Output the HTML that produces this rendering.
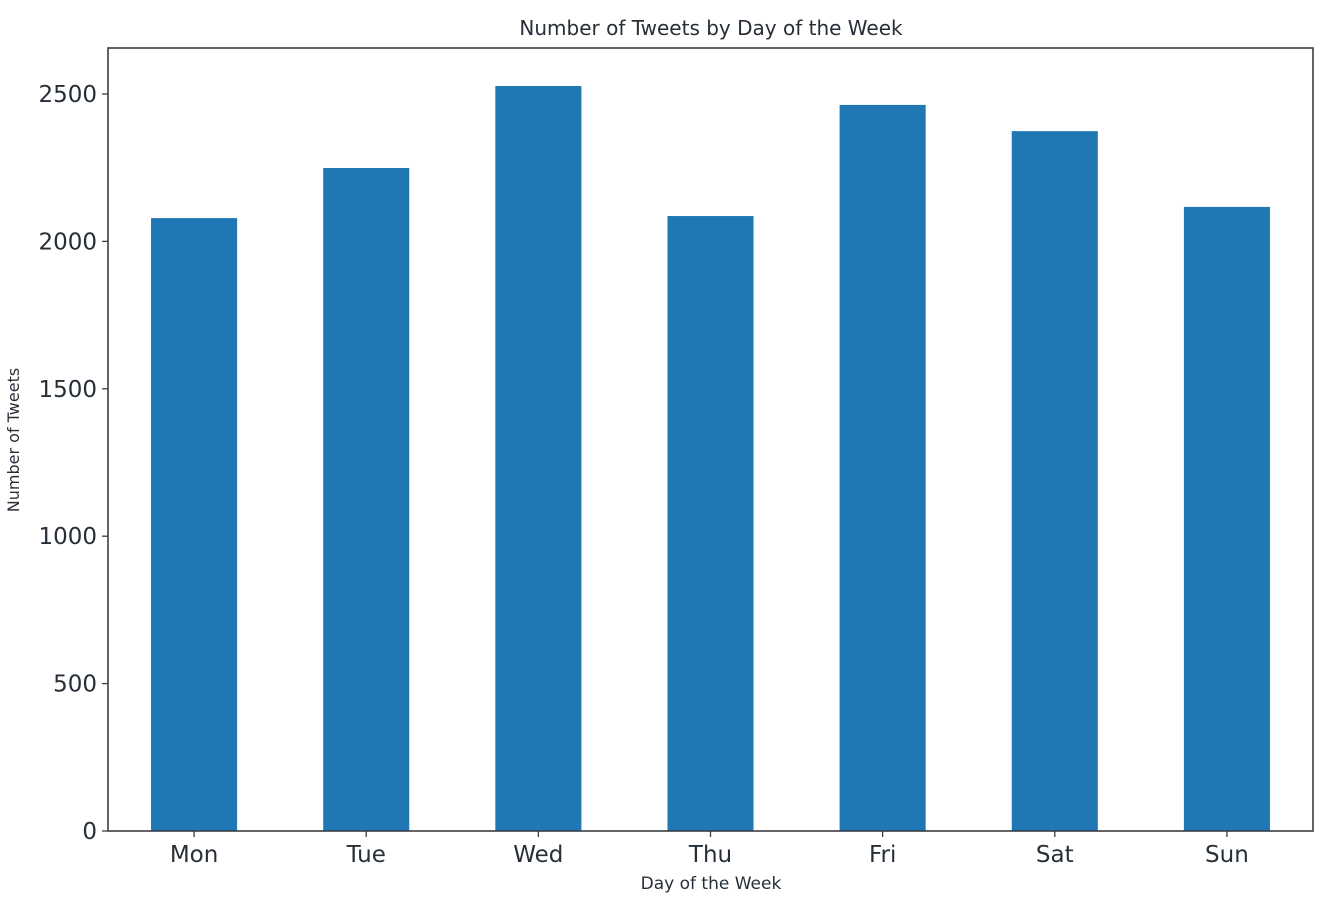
<!DOCTYPE html>
<html><head><meta charset="utf-8"><style>
body{margin:0;background:#fff;}
svg text{font-family:"DejaVu Sans","Liberation Sans",sans-serif;fill:#262f38;}
</style></head><body>
<svg id="chart" width="1336" height="908">
<text x="711" y="35" font-size="20" text-anchor="middle">Number of Tweets by Day of the Week</text>
<text x="711" y="889" font-size="17" text-anchor="middle">Day of the Week</text>
<text transform="translate(19,440) rotate(-90)" font-size="16" text-anchor="middle">Number of Tweets</text>
<g id="bars"></g><g id="ticks"></g>
<rect x="108" y="48" width="1205" height="783" fill="none" stroke="#3a3f44" stroke-width="1.6"/>
</svg>
<script>
const categories=["Mon","Tue","Wed","Thu","Fri","Sat","Sun"];
const tweetCounts=[2079,2249,2527,2086,2463,2374,2117];
const yTicks=[0,500,1000,1500,2000,2500];
const L=108,R=1313,B=831,T=48;
const step=(R-L)/categories.length;
const x=i=>L+step*(i+0.5);
const y=v=>B-v*(831-94)/2500;
const ns="http://www.w3.org/2000/svg";
const bars=document.getElementById('bars'),ticks=document.getElementById('ticks');
categories.forEach((c,i)=>{
 const r=document.createElementNS(ns,'rect');
 r.setAttribute('x',x(i)-step/4);r.setAttribute('width',step/2);
 r.setAttribute('y',y(tweetCounts[i]));r.setAttribute('height',B-y(tweetCounts[i]));
 r.setAttribute('fill','#1f77b4');
 
 
 bars.appendChild(r);
 const l=document.createElementNS(ns,'line');
 l.setAttribute('x1',x(i));l.setAttribute('x2',x(i));l.setAttribute('y1',B);l.setAttribute('y2',B+6);
 l.setAttribute('stroke','#3a3f44');l.setAttribute('stroke-width','1.3');
 
 
 ticks.appendChild(l);
 const t=document.createElementNS(ns,'text');
 t.setAttribute('x',x(i));t.setAttribute('y',B+31);t.setAttribute('font-size','23');t.setAttribute('text-anchor','middle');
 t.textContent=c;
 
 
 ticks.appendChild(t);
});
yTicks.forEach(v=>{
 const l=document.createElementNS(ns,'line');
 l.setAttribute('x1',L-6);l.setAttribute('x2',L);l.setAttribute('y1',y(v));l.setAttribute('y2',y(v));
 l.setAttribute('stroke','#3a3f44');l.setAttribute('stroke-width','1.3');
 
 
 ticks.appendChild(l);
 const t=document.createElementNS(ns,'text');
 t.setAttribute('x',L-11);t.setAttribute('y',y(v)+8);t.setAttribute('font-size','23');t.setAttribute('text-anchor','end');
 t.textContent=v;
 
 
 ticks.appendChild(t);
});
</script>
</body></html>
